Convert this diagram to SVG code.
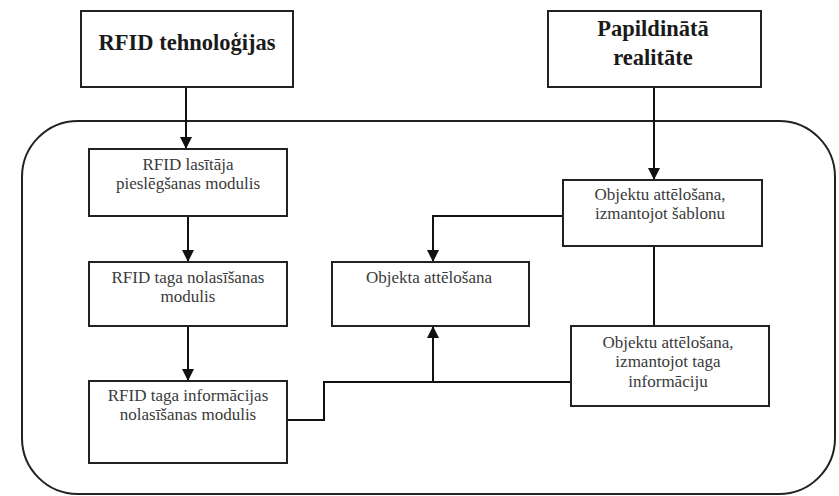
<svg xmlns="http://www.w3.org/2000/svg" width="839" height="496" viewBox="0 0 839 496">
<defs>
<marker id="arr" viewBox="0 0 12 12" refX="12" refY="6" markerWidth="12" markerHeight="12" markerUnits="userSpaceOnUse" orient="auto">
<path d="M0,0 L12,6 L0,12 Z" fill="#111"/>
</marker>
<style>
.box{fill:#fff;stroke:#222;stroke-width:2}
.t{font-family:"Liberation Serif","Times New Roman",serif;font-size:17px;fill:#3a3a3a;text-anchor:middle}
.h{font-family:"Liberation Serif","Times New Roman",serif;font-size:22.5px;font-weight:bold;fill:#1a1a1a;text-anchor:middle}
.c{fill:none;stroke:#111;stroke-width:2}
</style>
</defs>
<rect width="839" height="496" fill="#fff"/>
<rect id="frame" x="22" y="121" width="813" height="373" rx="56" ry="56" fill="none" stroke="#222" stroke-width="2"/>
<g id="connectors">
<path class="c" d="M186,87 V149" marker-end="url(#arr)"/>
<path class="c" d="M188,216 V262" marker-end="url(#arr)"/>
<path class="c" d="M188,326 V381" marker-end="url(#arr)"/>
<path class="c" d="M654,87 V180" marker-end="url(#arr)"/>
<path class="c" d="M563,216 H433 V262" marker-end="url(#arr)"/>
<path class="c" d="M654,246 V326"/>
<path class="c" d="M287,420 H324 V382 H571"/>
<path class="c" d="M433,382 V326" marker-end="url(#arr)"/>
</g>
<g id="n-rfid-tech">
<rect class="box" x="81" y="11" width="212" height="76"/>
<text class="h" x="187" y="50">RFID tehnoloģijas</text>
</g>
<g id="n-papild">
<rect class="box" x="548" y="11" width="213" height="76"/>
<text class="h" x="653" y="36">Papildinātā</text>
<text class="h" x="653" y="65">realitāte</text>
</g>
<g id="n-lasitaja">
<rect class="box" x="89" y="149" width="198" height="67"/>
<text class="t" x="188" y="170">RFID lasītāja</text>
<text class="t" x="188" y="189">pieslēgšanas modulis</text>
</g>
<g id="n-taga-nolas">
<rect class="box" x="89" y="262" width="198" height="64"/>
<text class="t" x="188" y="283">RFID taga nolasīšanas</text>
<text class="t" x="188" y="302">modulis</text>
</g>
<g id="n-taga-info">
<rect class="box" x="89" y="381" width="198" height="82"/>
<text class="t" x="188" y="401">RFID taga informācijas</text>
<text class="t" x="188" y="420">nolasīšanas modulis</text>
</g>
<g id="n-objekta">
<rect class="box" x="332" y="262" width="197" height="64"/>
<text class="t" x="429" y="283">Objekta attēlošana</text>
</g>
<g id="n-sablonu">
<rect class="box" x="563" y="180" width="199" height="66"/>
<text class="t" x="660" y="200">Objektu attēlošana,</text>
<text class="t" x="660" y="219">izmantojot šablonu</text>
</g>
<g id="n-obj-taga">
<rect class="box" x="571" y="326" width="198" height="80"/>
<text class="t" x="668" y="348">Objektu attēlošana,</text>
<text class="t" x="668" y="367">izmantojot taga</text>
<text class="t" x="668" y="387">informāciju</text>
</g>
</svg>
